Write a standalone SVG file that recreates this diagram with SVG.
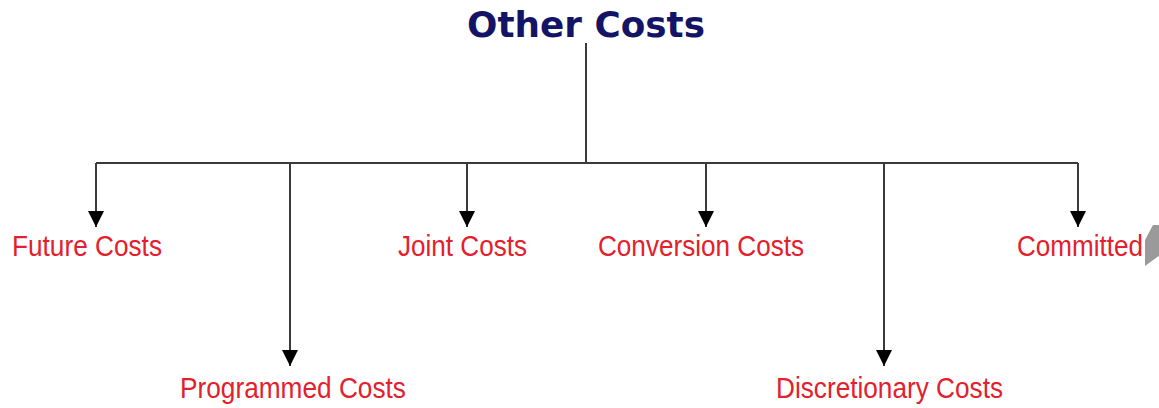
<svg xmlns="http://www.w3.org/2000/svg" width="1159" height="408" viewBox="0 0 1159 408">
<style>
.conn{stroke:#3a3a3a;stroke-width:2;fill:none}
.lbl{font-family:"Liberation Sans",Arial,sans-serif;font-size:29px;fill:#e3202c}
.title{font-family:"DejaVu Sans",Verdana,sans-serif;font-weight:bold;font-size:35px;fill:#141466}
</style>
<defs>
<marker id="arr" markerUnits="userSpaceOnUse" markerWidth="18" markerHeight="16" refX="16" refY="8" orient="auto" viewBox="0 0 18 16">
<path d="M0,0 L16,8 L0,16 Z" fill="#000"/>
</marker>
</defs>
<rect width="1159" height="408" fill="#fff"/>
<g id="title"><text class="title" x="467" y="37" textLength="238" lengthAdjust="spacingAndGlyphs">Other Costs</text></g>
<g id="connectors">
<path class="conn" d="M586,43 V163"/>
<path class="conn" d="M96,163 H1078"/>
<path class="conn" d="M96,163 V227" marker-end="url(#arr)"/>
<path class="conn" d="M290,163 V366" marker-end="url(#arr)"/>
<path class="conn" d="M467,163 V227" marker-end="url(#arr)"/>
<path class="conn" d="M706,163 V227" marker-end="url(#arr)"/>
<path class="conn" d="M884,163 V366" marker-end="url(#arr)"/>
<path class="conn" d="M1078,163 V227" marker-end="url(#arr)"/>
</g>
<g id="future"><text class="lbl" x="12" y="256" textLength="150" lengthAdjust="spacingAndGlyphs">Future Costs</text></g>
<g id="programmed"><text class="lbl" x="180" y="398" textLength="226" lengthAdjust="spacingAndGlyphs">Programmed Costs</text></g>
<g id="joint"><text class="lbl" x="398" y="256" textLength="129" lengthAdjust="spacingAndGlyphs">Joint Costs</text></g>
<g id="conversion"><text class="lbl" x="598" y="256" textLength="206" lengthAdjust="spacingAndGlyphs">Conversion Costs</text></g>
<g id="discretionary"><text class="lbl" x="776" y="398" textLength="227" lengthAdjust="spacingAndGlyphs">Discretionary Costs</text></g>
<g id="committed"><text class="lbl" x="1017" y="256" textLength="126" lengthAdjust="spacingAndGlyphs">Committed</text></g>
<polygon points="1145,240 1153,225 1160,225 1160,255 1145,266" fill="#9a9a9a"/>
</svg>
